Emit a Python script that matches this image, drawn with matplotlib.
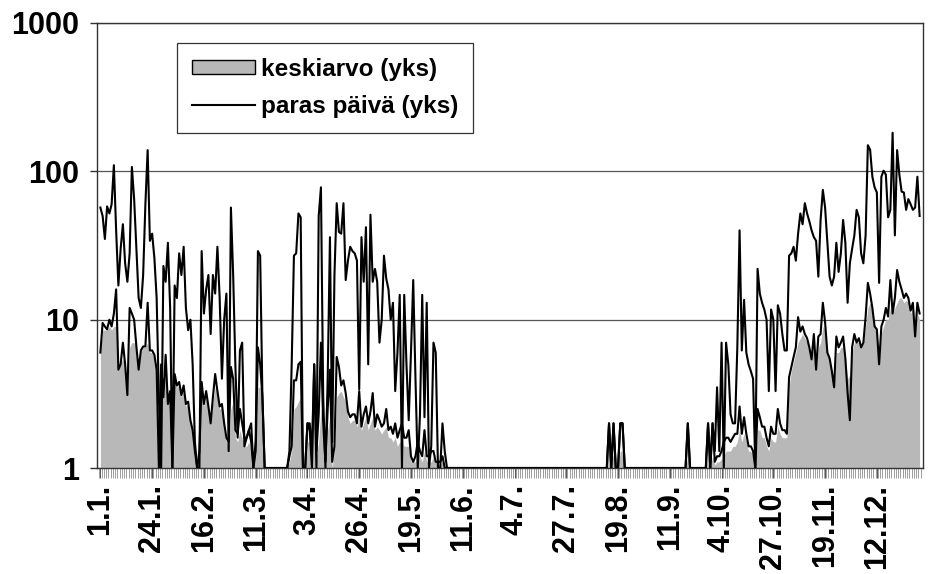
import numpy as np
import matplotlib
matplotlib.use('Agg')
import matplotlib.pyplot as plt
from matplotlib.patches import Patch
from matplotlib.lines import Line2D
from matplotlib.ticker import NullLocator, FixedLocator

plt.rcParams['font.family'] = ['Liberation Sans', 'DejaVu Sans']

# x tick labels (every 23rd day of the year)
tick_days = [0, 23, 46, 69, 92, 115, 138, 161, 184, 207, 230, 253, 276, 299, 322, 345]
tick_labels = ['1.1.', '24.1.', '16.2.', '11.3.', '3.4.', '26.4.', '19.5.', '11.6.',
               '4.7.', '27.7.', '19.8.', '11.9.', '4.10.', '27.10.', '19.11.', '12.12.']

# best day per day of year (upper line), one row per 10 days
paras = [
    57, 50, 35, 58, 52, 60, 110, 40, 17, 30,          # 0
    44, 24, 18, 28, 107, 65, 30, 14, 12, 20,
    60, 139, 34, 38, 26, 14, 3, 1, 23, 18,
    33, 12, 1, 17, 14, 28, 20, 31, 12, 8.5,
    10, 5, 1.5, 1, 1, 29, 11, 16, 20, 8,
    20, 15, 31, 14, 4, 10, 15, 1.3, 57, 20,           # 50
    4.8, 1.6, 6.2, 7, 1.4, 1.6, 1.8, 2, 1, 1.5,
    29, 27, 3, 1, 1, 1, 1, 1, 1, 1,
    1, 1, 1, 1, 1.3, 5, 27, 28, 52, 49,
    1, 1, 2, 1.8, 1, 5, 1, 50, 78, 3,
    1, 4, 36, 1.5, 20, 61, 39, 38, 61, 18.5,          # 100
    25, 31, 29, 28, 25, 3.4, 36, 18, 42, 5,
    51, 18, 22, 18, 7, 10, 27, 19, 16, 10,
    13, 3.3, 6, 14.7, 1, 14.7, 5, 2.1, 6, 18.5,
    4, 1, 2.3, 14.7, 2.2, 13, 1, 1.4, 7, 6,
    1, 1, 2, 1.3, 1, 1, 1, 1, 1, 1,                   # 150
    1, 1, 1, 1, 1, 1, 1, 1, 1, 1,
    1, 1, 1, 1, 1, 1, 1, 1, 1, 1,
    1, 1, 1, 1, 1, 1, 1, 1, 1, 1,
    1, 1, 1, 1, 1, 1, 1, 1, 1, 1,
    1, 1, 1, 1, 1, 1, 1, 1, 1, 1,                     # 200
    1, 1, 1, 1, 1, 1, 1, 1, 1, 1,
    1, 1, 1, 1, 1, 1, 2, 1, 2, 1,
    1, 2, 2, 1, 1, 1, 1, 1, 1, 1,
    1, 1, 1, 1, 1, 1, 1, 1, 1, 1,
    1, 1, 1, 1, 1, 1, 1, 1, 1, 1,                     # 250
    1, 2, 1, 1, 1, 1, 1, 1, 1, 1,
    2, 1, 2, 1.3, 3.5, 1.3, 7, 1, 7, 5,
    2.3, 2, 2, 6.5, 40, 6.2, 13.6, 6, 5, 4.5,
    4, 1, 22, 15, 13, 11.7, 10, 3.3, 11.7, 10,
    3.3, 12.5, 11, 8, 6.2, 6.2, 27, 28, 31, 25,       # 300
    38, 52, 44, 61, 52, 46, 40, 36, 34, 19.5,
    47, 75, 57, 33, 19.5, 17, 19.5, 33, 21, 28,
    47, 33, 13, 24, 30, 37, 55, 49, 28, 24,
    37, 150, 140, 92, 78, 72, 17.7, 92, 101, 95,
    49, 55, 182, 37, 139, 95, 73, 72, 55, 65,         # 350
    60, 55, 57, 92, 50,
]

# second (lower) black line
toinen = [
    6, 9.5, 9, 8.6, 10, 9, 11, 16, 4.6, 5,            # 0
    7, 5, 3.1, 12, 11, 10, 6.6, 4.6, 6.2, 6.6,
    6.6, 13, 6.2, 6.2, 5.8, 4.6, 1, 5, 3, 5.8,
    2.7, 3.3, 1, 4.3, 3.6, 3.8, 3.1, 3.6, 2.7, 2.8,
    2.1, 1.8, 1.3, 1, 1.3, 3.8, 2.7, 3.3, 2.6, 2,
    3, 4.3, 3.3, 2.6, 2.7, 2, 1.6, 1.5, 4.8, 4,       # 50
    1.8, 1.7, 2.5, 2, 1.6, 1.6, 1.8, 1.5, 1, 1.3,
    6.5, 5, 3, 1, 1, 1, 1, 1, 1, 1,
    1, 1, 1, 1, 1.2, 1.4, 3.9, 3.9, 5, 5.2,
    1, 1, 2, 2, 1.3, 5, 1.3, 2.3, 7, 2,
    1.1, 2.5, 4.6, 1.1, 1.4, 5.6, 4.8, 3.6, 3.9, 3.2,  # 100
    2.4, 2.2, 2.3, 2.3, 2, 3.3, 1.9, 2.3, 2.6, 2,
    2.4, 3.2, 1.9, 2.3, 2.1, 1.9, 2, 2.5, 1.8, 1.9,
    1.7, 2, 1.6, 1.8, 2, 1.6, 1.6, 1.8, 1.2, 1.1,
    1.2, 1.5, 1.3, 1.2, 1.8, 1.2, 1.2, 1.3, 1.3, 1.1,
    1.1, 1.1, 1.2, 1, 1, 1, 1, 1, 1, 1,               # 150
    1, 1, 1, 1, 1, 1, 1, 1, 1, 1,
    1, 1, 1, 1, 1, 1, 1, 1, 1, 1,
    1, 1, 1, 1, 1, 1, 1, 1, 1, 1,
    1, 1, 1, 1, 1, 1, 1, 1, 1, 1,
    1, 1, 1, 1, 1, 1, 1, 1, 1, 1,                     # 200
    1, 1, 1, 1, 1, 1, 1, 1, 1, 1,
    1, 1, 1, 1, 1, 1, 2, 1, 2, 1,
    1, 2, 2, 1, 1, 1, 1, 1, 1, 1,
    1, 1, 1, 1, 1, 1, 1, 1, 1, 1,
    1, 1, 1, 1, 1, 1, 1, 1, 1, 1,                     # 250
    1, 2, 1, 1, 1, 1, 1, 1, 1, 1,
    2, 1, 2, 1.1, 1.2, 1.2, 1.3, 1.5, 1.6, 1.6,
    1.5, 1.6, 1.7, 1.7, 2.6, 1.7, 2.2, 1.7, 1.4, 1.4,
    1.3, 1, 2.5, 2.2, 1.9, 1.9, 1.6, 1.4, 1.9, 1.7,
    1.7, 2.5, 2, 1.8, 1.8, 1.7, 4.1, 4.8, 5.6, 6.5,   # 300
    10.4, 8.3, 9, 8, 7.5, 6.5, 5.4, 8, 4.6, 7.7,
    8, 13, 9.6, 6, 5.5, 4.5, 3.5, 7.7, 6.5, 7,
    7.7, 5.5, 3.2, 2.1, 6.5, 8, 7, 7.5, 6.5, 7,
    10.4, 17.7, 15, 12, 9, 8.6, 5, 9, 10, 12,
    10.5, 18.5, 11, 14, 21.6, 18, 16, 14, 15, 14,     # 350
    11.5, 13, 7.7, 13, 11,
]

# average per day (grey area)
keskiarvo = [
    6, 8.5, 8.5, 8.5, 9, 8.5, 9, 9, 4.6, 5,           # 0
    5.5, 4.5, 3.1, 6.5, 7, 7, 6.5, 4.6, 6, 6.5,
    6.5, 7, 6, 6, 5.5, 4.5, 1, 4.5, 3, 5,
    2.7, 3.2, 1, 4, 3.5, 3.6, 3, 3.4, 2.6, 2.7,
    2, 1.7, 1.2, 1, 1.2, 3.5, 2.6, 3, 2.5, 2,
    2.8, 3.5, 3, 2.5, 2.5, 1.8, 1.5, 1.4, 2.5, 2.8,   # 50
    1.6, 1.5, 1.8, 1.6, 1.4, 1.4, 1.5, 1.3, 1, 1.2,
    3.5, 3.5, 2.5, 1, 1, 1, 1, 1, 1, 1,
    1, 1, 1, 1, 1.1, 1.3, 2.5, 2.6, 2.8, 3,
    1, 1, 1.5, 1.5, 1.2, 2.2, 1.2, 1.5, 2.5, 1.5,
    1, 1.8, 2.2, 1, 1.3, 3, 3.2, 3.3, 3, 2.8,         # 100
    2.2, 2, 2.1, 2.1, 1.9, 2.2, 1.8, 2, 2.2, 1.8,
    2, 2.2, 1.8, 1.9, 1.8, 1.7, 1.8, 1.9, 1.6, 1.6,
    1.5, 1.6, 1.4, 1.5, 1.5, 1.4, 1.4, 1.4, 1.1, 1.1,
    1.1, 1.3, 1.2, 1.1, 1.3, 1.1, 1.1, 1.1, 1.2, 1.1,
    1.05, 1.05, 1.1, 1, 1, 1, 1, 1, 1, 1,             # 150
    1, 1, 1, 1, 1, 1, 1, 1, 1, 1,
    1, 1, 1, 1, 1, 1, 1, 1, 1, 1,
    1, 1, 1, 1, 1, 1, 1, 1, 1, 1,
    1, 1, 1, 1, 1, 1, 1, 1, 1, 1,
    1, 1, 1, 1, 1, 1, 1, 1, 1, 1,                     # 200
    1, 1, 1, 1, 1, 1, 1, 1, 1, 1,
    1, 1, 1, 1, 1, 1, 1.3, 1, 1.3, 1,
    1, 1.3, 1.3, 1, 1, 1, 1, 1, 1, 1,
    1, 1, 1, 1, 1, 1, 1, 1, 1, 1,
    1, 1, 1, 1, 1, 1, 1, 1, 1, 1,                     # 250
    1, 1.2, 1, 1, 1, 1, 1, 1, 1, 1,
    1.2, 1, 1.2, 1.05, 1.1, 1.1, 1.15, 1.2, 1.3, 1.3,
    1.3, 1.4, 1.4, 1.5, 1.8, 1.5, 1.7, 1.5, 1.3, 1.3,
    1.2, 1, 1.8, 1.8, 1.6, 1.6, 1.4, 1.3, 1.6, 1.5,
    1.5, 1.9, 1.7, 1.6, 1.6, 1.6, 3.5, 4.5, 5.2, 6,   # 300
    7, 7.5, 8, 7.5, 7, 6.5, 5.4, 7, 4.6, 6.5,
    7, 9, 8.5, 6, 5.5, 4.5, 3.5, 6, 6, 6.5,
    6.5, 5.5, 4, 4.2, 6, 7, 7, 7, 6.5, 7,
    9, 12, 13, 11, 9, 8, 5.5, 8, 9, 10,
    10, 12, 11, 12, 13, 14, 14, 13, 13.5, 13,         # 350
    11, 12, 8, 11, 10,
]

assert len(paras) == len(toinen) == len(keskiarvo) == 365
days = np.arange(len(paras))

GREY = '#b8b8b8'

fig = plt.figure(figsize=(9.3, 5.74), dpi=100)
ax = fig.add_axes([97 / 930, 1 - 468 / 574, (923 - 97) / 930, (468 - 23) / 574])

ax.fill_between(days, 1, keskiarvo, color=GREY, lw=0, zorder=2)
ax.plot(days, toinen, color='black', lw=1.5, zorder=3)
ax.plot(days, paras, color='black', lw=1.5, zorder=4)

ax.set_yscale('log')
ax.set_ylim(1, 1000)
ax.set_xlim(-1.5, 365.5)

ax.set_yticks([1, 10, 100, 1000])
ax.set_yticklabels(['1', '10', '100', '1000'], fontsize=22, fontweight='bold')
ax.yaxis.set_minor_locator(NullLocator())
ax.tick_params(axis='y', which='major', length=5, width=1, pad=8, color='#333333')

ax.set_xticks(tick_days)
ax.set_xticklabels(tick_labels, rotation=90, fontsize=22, fontweight='bold')
ax.xaxis.set_minor_locator(FixedLocator(np.arange(-0.5, 365, 1)))
ax.tick_params(axis='x', which='major', length=7, width=0.7, pad=4.5, color='#555555')
ax.tick_params(axis='x', which='minor', length=7, width=0.5, color='#777777')

ax.grid(axis='y', which='major', color='#555555', lw=0.9)
ax.set_axisbelow(True)
for side in ['left', 'right', 'top', 'bottom']:
    ax.spines[side].set_color('#333333')
    ax.spines[side].set_linewidth(1.0)

handles = [Patch(facecolor=GREY, edgecolor='black', lw=1.0),
           Line2D([], [], color='black', lw=1.5)]
leg = ax.legend(handles, ['keskiarvo (yks)', 'paras päivä (yks)'],
                loc='upper left', bbox_to_anchor=(177 / 930, 1 - 43 / 574),
                bbox_transform=fig.transFigure, borderaxespad=0,
                fancybox=False, framealpha=1, edgecolor='#333333',
                prop={'size': 17.5, 'weight': 'bold'},
                handlelength=2.6, handleheight=0.55, handletextpad=0.25,
                labelspacing=0.6, borderpad=0.6)
leg.get_frame().set_linewidth(0.9)

fig.savefig('out.png', dpi=100)
